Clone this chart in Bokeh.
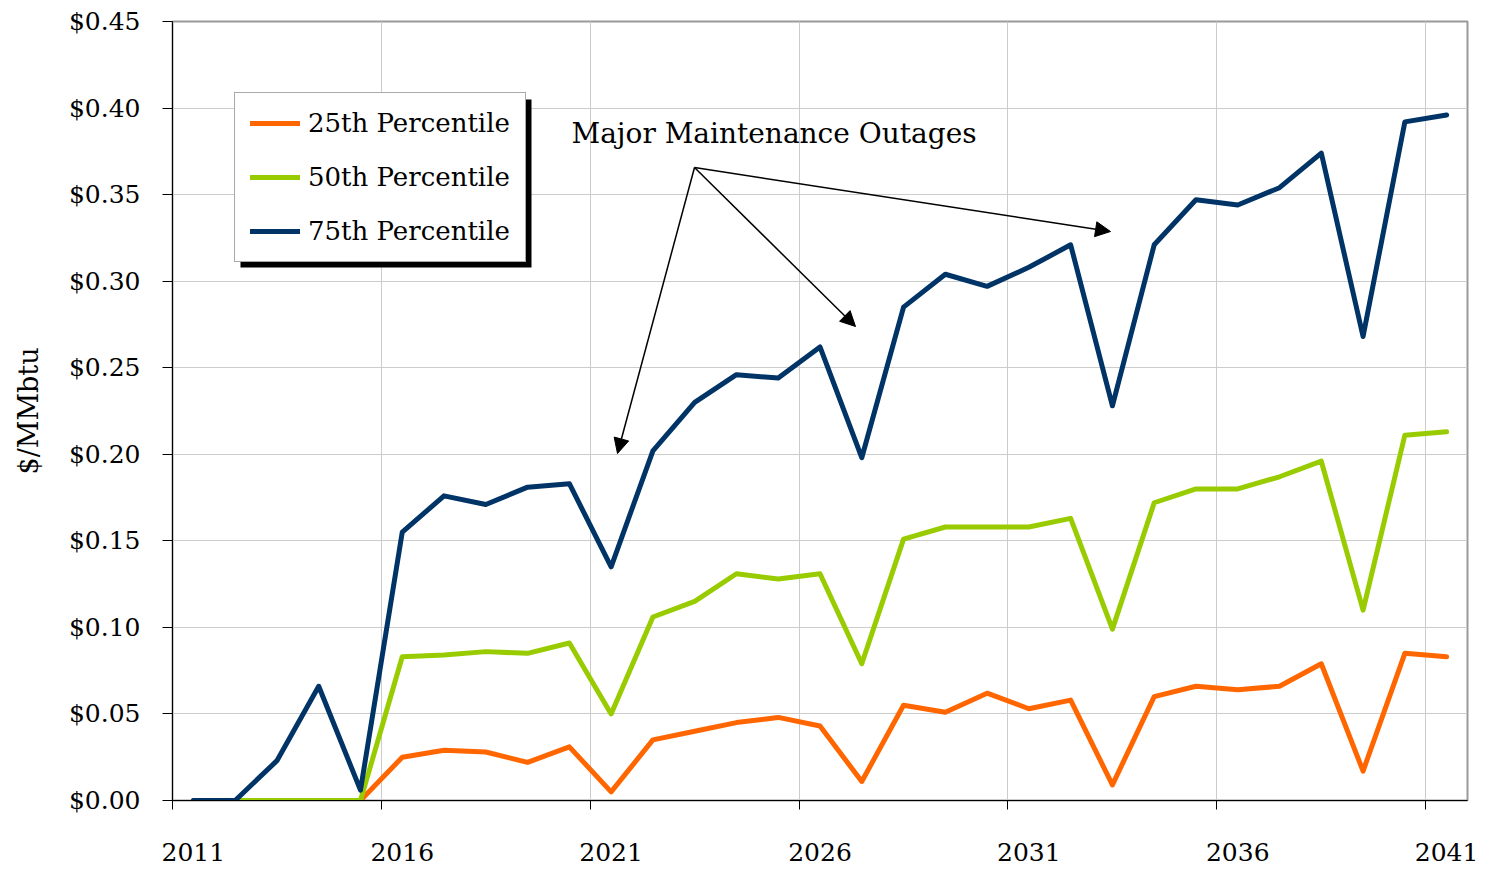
from bokeh.plotting import figure
from bokeh.models import (Range1d, FixedTicker, PrintfTickFormatter, Legend, LegendItem,
                          BoxAnnotation, Arrow, NormalHead, Label)
from bokeh.embed import file_html
from bokeh.resources import INLINE

# ---------------- data ----------------
years = list(range(2011, 2042))
p25 = [0, 0, 0, 0, 0, 0.025, 0.029, 0.028, 0.022, 0.031, 0.005, 0.035, 0.040, 0.045, 0.048,
       0.043, 0.011, 0.055, 0.051, 0.062, 0.053, 0.058, 0.009, 0.060, 0.066, 0.064, 0.066,
       0.079, 0.017, 0.085, 0.083]
p50 = [0, 0, 0, 0, 0, 0.083, 0.084, 0.086, 0.085, 0.091, 0.050, 0.106, 0.115, 0.131, 0.128,
       0.131, 0.079, 0.151, 0.158, 0.158, 0.158, 0.163, 0.099, 0.172, 0.180, 0.180, 0.187,
       0.196, 0.110, 0.211, 0.213]
p75 = [0, 0, 0.023, 0.066, 0.006, 0.155, 0.176, 0.171, 0.181, 0.183, 0.135, 0.202, 0.230,
       0.246, 0.244, 0.262, 0.198, 0.285, 0.304, 0.297, 0.308, 0.321, 0.228, 0.321, 0.347,
       0.344, 0.354, 0.374, 0.268, 0.392, 0.396]
series_names = ["25th Percentile", "50th Percentile", "75th Percentile"]
tick_years = [2011, 2016, 2021, 2026, 2031, 2036, 2041]
y_ticks = [0, 0.05, 0.10, 0.15, 0.20, 0.25, 0.30, 0.35, 0.40, 0.45]
annotation_text = "Major Maintenance Outages"
y_label = "$/MMbtu"

colors = ["#FF6600", "#99CC00", "#003366"]
FONT = "DejaVu Serif"

FW, FH = 1295, 779
FL, FT = 172, 21          # frame position in the page
X0, X1 = years[0] - 0.5, years[-1] + 0.5
Y0, Y1 = 0, 0.45

p = figure(frame_width=FW, frame_height=FH, min_border_left=FL, min_border_top=FT,
           min_border_right=25, min_border_bottom=70,
           x_range=Range1d(X0, X1), y_range=Range1d(Y0, Y1),
           output_backend="svg", toolbar_location=None)
p.background_fill_color = "white"
p.border_fill_color = "white"
p.outline_line_color = "#999999"
p.outline_line_width = 2

# page pixel -> data helpers
def px_x(px):
    return X0 + (px - FL) / FW * (X1 - X0)
def px_y(py):
    return Y1 - (py - FT) / FH * (Y1 - Y0)

# x axis
xt = FixedTicker(ticks=tick_years, minor_ticks=[t - 0.5 for t in tick_years])
p.xaxis.ticker = xt
p.xaxis.major_tick_out = 0
p.xaxis.major_tick_in = 0
p.xaxis.minor_tick_out = 9
p.xaxis.minor_tick_in = 0
p.xaxis.minor_tick_line_color = "black"
p.xaxis.major_label_standoff = 33
p.xaxis.major_label_text_font = FONT
p.xaxis.major_label_text_font_size = "25px"
p.xaxis.major_label_text_color = "black"
p.xaxis.axis_line_color = "black"
p.xgrid.ticker = xt
p.xgrid.grid_line_color = None
p.xgrid.minor_grid_line_color = "#cccccc"
p.xgrid.minor_grid_line_width = 1

# y axis
p.yaxis.ticker = FixedTicker(ticks=y_ticks)
p.yaxis.formatter = PrintfTickFormatter(format="$%.2f")
p.yaxis.major_tick_out = 10
p.yaxis.major_tick_in = 0
p.yaxis.minor_tick_out = 0
p.yaxis.minor_tick_in = 0
p.yaxis.major_label_standoff = 22
p.yaxis.major_label_text_font = FONT
p.yaxis.major_label_text_font_size = "25px"
p.yaxis.major_label_text_color = "black"
p.yaxis.axis_line_color = "black"
p.yaxis.axis_label = y_label
p.yaxis.axis_label_text_font = FONT
p.yaxis.axis_label_text_font_size = "27px"
p.yaxis.axis_label_text_font_style = "normal"
p.yaxis.axis_label_text_color = "black"
p.yaxis.axis_label_standoff = 22
p.ygrid.grid_line_color = "#cccccc"
p.ygrid.grid_line_width = 1

renderers = []
for vals, c in zip([p25, p50, p75], colors):
    r = p.line(years, vals, line_color=c, line_width=5, line_join="round", line_cap="round")
    renderers.append(r)

# annotation arrows
src = (px_x(694), px_y(167))
targets = [(px_x(617), px_y(453)), (px_x(855), px_y(326)), (px_x(1110), px_y(231))]
for tx, ty in targets:
    p.add_layout(Arrow(end=NormalHead(size=15, fill_color="black", line_color="black"),
                       x_start=src[0], y_start=src[1], x_end=tx, y_end=ty,
                       line_color="black", line_width=1.5))
p.add_layout(Label(x=px_x(571), y=px_y(133), text=annotation_text, text_font=FONT,
                   text_font_size="28px", text_color="black", text_baseline="middle"))

# legend shadow
p.add_layout(BoxAnnotation(left=px_x(240), right=px_x(531), bottom=px_y(267), top=px_y(99),
                           fill_color="black", fill_alpha=1, line_color=None))

legend = Legend(items=[LegendItem(label=n, renderers=[r]) for n, r in zip(series_names, renderers)],
                location=(234 - FL, (FT + FH) - 262), margin=0, padding=15, spacing=24,
                glyph_width=50, glyph_height=30, label_height=30, label_standoff=8,
                label_text_font=FONT, label_text_font_size="26px", label_text_color="black",
                border_line_color="#555555", border_line_width=1,
                background_fill_color="white", background_fill_alpha=1)
p.add_layout(legend, "center")

open("out.html", "w").write(file_html(p, INLINE))
